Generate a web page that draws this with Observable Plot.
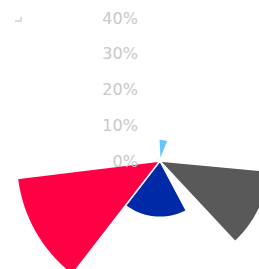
<!DOCTYPE html>
<html>
<head>
<meta charset="utf-8">
<script src="https://cdn.jsdelivr.net/npm/d3@7"></script>
<script src="https://cdn.jsdelivr.net/npm/@observablehq/plot@0.6"></script>
<style>
  html, body { margin: 0; padding: 0; background: #fff; overflow: hidden; }
  #wrap { position: relative; width: 259px; height: 269px; }
  #corner { position: absolute; left: 15px; top: 17px; width: 5px; height: 3px;
            border-right: 2px solid #dcdcdc; border-bottom: 2px solid #dcdcdc; }
</style>
</head>
<body>
<div id="wrap"><div id="corner"></div></div>
<script>
// ---- data ----
const categories = ["Light blue", "Light grey", "Dark grey", "Blue", "Red", "Yellow"];
const startDeg   = [-3, 27, 95.3, 152, 217.7, 292];   // clockwise from top
const endDeg     = [22, 45, 137, 217.7, 263, 335];
const values     = [0.061, 0.011, 0.307, 0.157, 0.40, 0.012];
const colors     = ["#66c6ff", "#a8a8a8", "#595959", "#0029a8", "#ff0044", "#ffe900"];
const radialTicks = [0, 0.1, 0.2, 0.3, 0.4];

// ---- layout ----
const W = 259, H = 269, cx = 159.4, cy = 160.5, pxPerUnit = 359;

// sector outlines built from the data
const pts = [];
categories.forEach((c, i) => {
  const v = values[i];
  pts.push({cat: c, x: 0, y: 0});
  const a0 = startDeg[i], a1 = endDeg[i];
  const n = Math.max(2, Math.ceil((a1 - a0) / 0.5));
  for (let k = 0; k <= n; k++) {
    const a = (a0 + (a1 - a0) * k / n) * Math.PI / 180;
    pts.push({cat: c, x: v * Math.sin(a), y: v * Math.cos(a)});
  }
  pts.push({cat: c, x: 0, y: 0});
});

const chart = Plot.plot({
  width: W, height: H,
  margin: 0,
  style: {background: "transparent", overflow: "hidden"},
  x: {domain: [-cx / pxPerUnit, (W - cx) / pxPerUnit], axis: null},
  y: {domain: [-(H - cy) / pxPerUnit, cy / pxPerUnit], axis: null},
  color: {domain: categories, range: colors},
  marks: [
    Plot.line(pts, {x: "x", y: "y", z: "cat", fill: "cat", stroke: "white",
                    strokeWidth: 1.5, curve: "linear"}),
    Plot.text(radialTicks, {x: () => 0, y: d => d, text: d => d3.format(".0%")(d),
                    textAnchor: "end", dx: -22, dy: 1, fill: "#c8c8c8",
                    fontSize: 16, fontFamily: "DejaVu Sans"})
  ]
});
document.getElementById("wrap").appendChild(chart);
chart.style.position = "absolute";
chart.style.left = "0";
chart.style.top = "0";
</script>
</body>
</html>
